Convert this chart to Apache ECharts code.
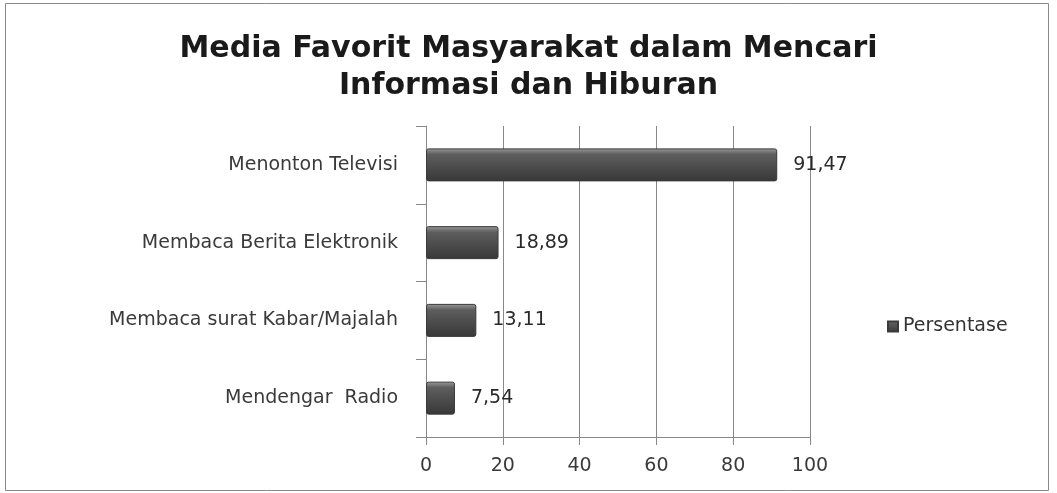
<!DOCTYPE html>
<html><head><meta charset="utf-8">
<script src="https://cdn.jsdelivr.net/npm/echarts@6/dist/echarts.min.js"></script>
<style>html,body{margin:0;padding:0;background:#fff}#c{width:1057px;height:493px}</style>
</head><body><div id="c"></div>
<script>
const categories = ["Mendengar  Radio", "Membaca surat Kabar/Majalah", "Membaca Berita Elektronik", "Menonton Televisi"];
const values = [7.54, 13.11, 18.89, 91.47];
const seriesName = "Persentase";
const titleText = "Media Favorit Masyarakat dalam Mencari\nInformasi dan Hiburan";

const chart = echarts.init(document.getElementById('c'));
const barColor = new echarts.graphic.LinearGradient(0, 0, 0, 1, [
  {offset: 0, color: '#9a9a9a'},
  {offset: 0.18, color: '#5e5e5e'},
  {offset: 0.6, color: '#4a4a4a'},
  {offset: 1, color: '#383838'}
]);
chart.setOption({
  animation: false,
  title: {
    text: titleText, left: 'center', top: 26,
    textStyle: {fontFamily: 'DejaVu Sans', fontWeight: 'bold', fontSize: 30, lineHeight: 37, color: '#1a1a1a'}
  },
  graphic: [{type: 'rect', shape: {x: 5.5, y: 3.5, width: 1043, height: 487}, style: {fill: 'none', stroke: '#8a8a8a', lineWidth: 1}, silent: true}],
  legend: {
    data: [seriesName], left: 882, top: 312, orient: 'vertical',
    itemWidth: 10, itemHeight: 10, icon: 'rect', itemGap: 4,
    textStyle: {fontFamily: 'DejaVu Sans', fontSize: 19, color: '#333', padding: [0, 0, 0, 0]}
  },
  grid: {left: 426, right: 247, top: 126, bottom: 56, containLabel: false},
  xAxis: {
    type: 'value', min: 0, max: 100, interval: 20,
    axisLine: {show: true, lineStyle: {color: '#888'}},
    axisTick: {show: true, length: 8, lineStyle: {color: '#888'}},
    axisLabel: {fontFamily: 'DejaVu Sans', fontSize: 19, color: '#3a3a3a', margin: 20},
    splitLine: {show: true, lineStyle: {color: '#888', width: 1}}
  },
  yAxis: {
    type: 'category', data: categories,
    axisLine: {show: true, lineStyle: {color: '#888'}},
    axisTick: {show: true, length: 10, lineStyle: {color: '#888'}},
    axisLabel: {fontFamily: 'DejaVu Sans', fontSize: 19, color: '#3a3a3a', margin: 28}
  },
  series: [{
    name: seriesName, type: 'bar', data: values, barWidth: 33,
    itemStyle: {color: barColor, borderColor: '#3a3a3a', borderWidth: 1, borderRadius: 2},
    label: {show: true, position: 'right', distance: 16, fontFamily: 'DejaVu Sans', fontSize: 19, color: '#2a2a2a',
      formatter: p => String(p.value).replace('.', ',')}
  }]
});
</script></body></html>
